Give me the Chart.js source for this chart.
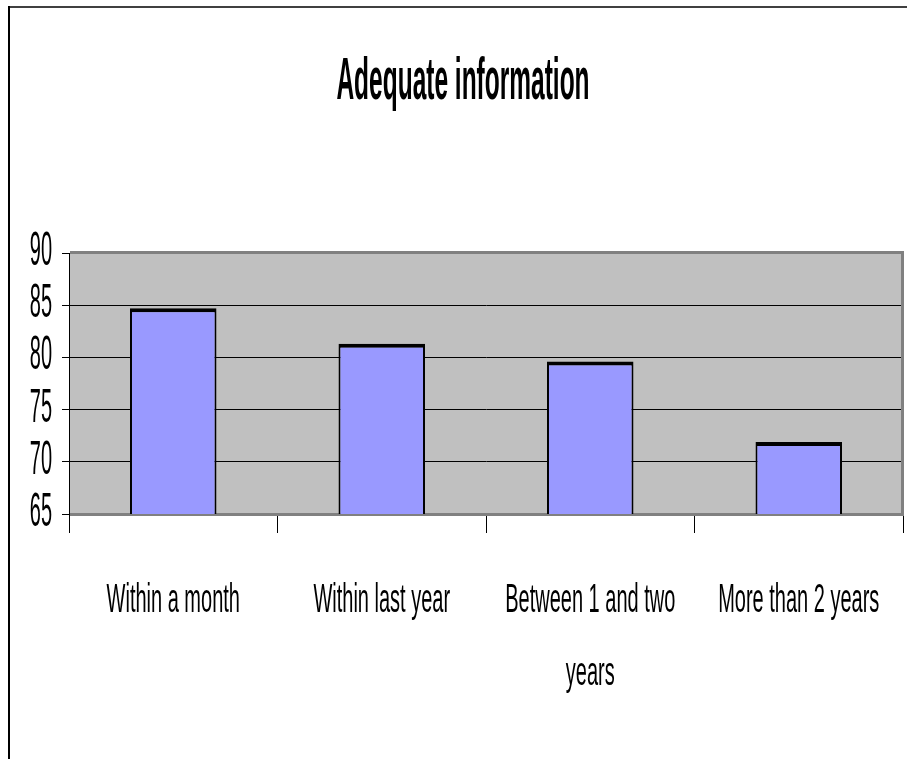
<!DOCTYPE html>
<html>
<head>
<meta charset="utf-8">
<title>Adequate information</title>
<script src="https://cdn.jsdelivr.net/npm/chart.js"></script>
<style>
  html, body { margin: 0; padding: 0; background: #fff; }
  #wrap { width: 907px; height: 759px; }
</style>
</head>
<body>
<div id="wrap"><canvas id="myChart" width="907" height="759"></canvas></div>
<script>
const chartTitle = "Adequate information";
const categories = [["Within a month"], ["Within last year"], ["Between 1 and two", "years"], ["More than 2 years"]];
const values = [84.7, 81.3, 79.6, 71.9];
const yTicks = [65, 70, 75, 80, 85, 90];

const narrow = '"Liberation Sans Narrow", "Arial Narrow", "Liberation Sans", sans-serif';

// the original export draws all its text tall and narrow, so text is stretched vertically
function stretchedText(ctx, text, x, y, font, sy, align) {
  ctx.save();
  ctx.translate(x, y);
  ctx.scale(1, sy);
  ctx.font = font;
  ctx.fillStyle = "#000";
  ctx.textAlign = align;
  ctx.textBaseline = "alphabetic";
  ctx.fillText(text, 0, 0);
  ctx.restore();
}

const excelLook = {
  id: "excelLook",
  beforeDraw(chart) {
    const ctx = chart.ctx, a = chart.chartArea;
    ctx.save();
    ctx.fillStyle = "#fff";
    ctx.fillRect(0, 0, chart.width, chart.height);
    // outer frame
    ctx.fillStyle = "#404040";
    ctx.fillRect(9, 6, chart.width - 9, 2);
    ctx.fillStyle = "#000";
    ctx.fillRect(8, 6, 2, chart.height - 6);
    // plot area
    ctx.fillStyle = "#c0c0c0";
    ctx.fillRect(a.left, a.top, a.right - a.left, a.bottom - a.top);
    ctx.restore();
  },
  beforeDatasetsDraw(chart) {
    const ctx = chart.ctx, a = chart.chartArea;
    ctx.save();
    ctx.strokeStyle = "#808080";
    ctx.lineWidth = 3;
    ctx.beginPath();
    ctx.moveTo(a.left + 1, a.top - 0.5);
    ctx.lineTo(a.right - 0.5, a.top - 0.5);
    ctx.lineTo(a.right - 0.5, a.bottom + 0.5);
    ctx.lineTo(a.left + 1, a.bottom + 0.5);
    ctx.stroke();
    ctx.restore();
  },
  afterDraw(chart) {
    const ctx = chart.ctx;
    stretchedText(ctx, chartTitle, 463, 99, "bold 24.5px " + narrow, 2.45, "center");
    const y = chart.scales.y;
    yTicks.forEach(v => {
      stretchedText(ctx, String(v), 52, y.getPixelForValue(v) + 12, "20px " + narrow, 2.4, "right");
    });
    const x = chart.scales.x;
    categories.forEach((lines, i) => {
      lines.forEach((line, j) => {
        stretchedText(ctx, line, x.getPixelForValue(i), 612 + j * 73, "20px " + narrow, 2.0, "center");
      });
    });
  }
};

new Chart(document.getElementById("myChart").getContext("2d"), {
  type: "bar",
  data: {
    labels: categories,
    datasets: [{
      label: chartTitle,
      data: values,
      backgroundColor: "#9999ff",
      borderColor: "#000",
      borderWidth: { top: 4, right: 2, bottom: 2, left: 2 },
      borderSkipped: false,
      categoryPercentage: 1,
      barPercentage: 0.415
    }]
  },
  options: {
    responsive: false,
    devicePixelRatio: 1,
    animation: false,
    layout: { padding: { left: 62, right: 4, top: 253, bottom: 226 } },
    plugins: {
      legend: { display: false },
      title: { display: false },
      tooltip: { enabled: false }
    },
    scales: {
      x: {
        offset: true,
        grid: { offset: true, drawOnChartArea: false, tickLength: 19, tickColor: "#000" },
        border: { display: false },
        ticks: { display: false }
      },
      y: {
        min: 65,
        max: 90,
        ticks: { display: false, stepSize: 5 },
        grid: {
          tickLength: 7,
          tickColor: "#000",
          color: c => (c.tick && (c.tick.value === 90 || c.tick.value === 65)) ? "rgba(0,0,0,0)" : "#000"
        },
        border: { display: true, color: "#000", width: 1 }
      }
    }
  },
  plugins: [excelLook]
});
</script>
</body>
</html>
